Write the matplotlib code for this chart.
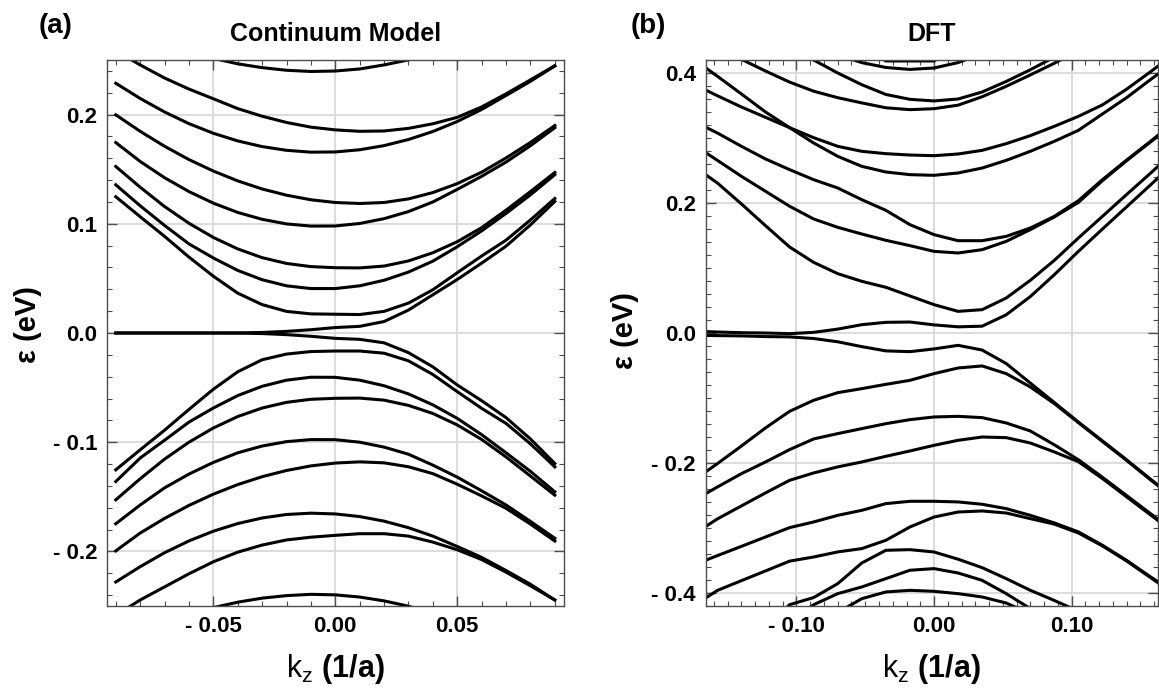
import matplotlib
matplotlib.use("Agg")
import matplotlib.pyplot as plt
from matplotlib.ticker import MultipleLocator

plt.rcParams['font.family'] = ['Liberation Sans', 'DejaVu Sans']
plt.rcParams['mathtext.fontset'] = 'custom'
plt.rcParams['mathtext.rm'] = 'Liberation Sans'
plt.rcParams['mathtext.it'] = 'Liberation Sans:italic'

# (a) continuum model, bands
kz_cm = [-0.09, -0.08, -0.07, -0.06, -0.05, -0.04, -0.03, -0.02, -0.01, 0.0,
         0.01, 0.02, 0.03, 0.04, 0.05, 0.06, 0.07, 0.08, 0.09]

c1 = [0.29, 0.279, 0.268, 0.259, 0.2515, 0.2465, 0.243, 0.2406, 0.2395, 0.2399, 0.2418, 0.2455, 0.2501, 0.2565, 0.264, 0.274, 0.285, 0.296, 0.307]
c2 = [0.2585, 0.2455, 0.2335, 0.2234, 0.2145, 0.2055, 0.1985, 0.1928, 0.1885, 0.186, 0.1847, 0.185, 0.1874, 0.1916, 0.1975, 0.207, 0.219, 0.2318, 0.2448]
c3 = [0.2287, 0.2148, 0.2024, 0.1917, 0.1829, 0.1759, 0.1707, 0.1673, 0.1656, 0.1658, 0.1678, 0.1716, 0.1772, 0.1845, 0.1937, 0.2047, 0.2175, 0.2305, 0.2445]
c4 = [0.1998, 0.1847, 0.171, 0.1588, 0.1483, 0.1393, 0.1319, 0.1262, 0.122, 0.1195, 0.1186, 0.1195, 0.1228, 0.1286, 0.1368, 0.1473, 0.1603, 0.1745, 0.19]
c5 = [0.1744, 0.1571, 0.1422, 0.1295, 0.1189, 0.1104, 0.1041, 0.0999, 0.0979, 0.098, 0.1003, 0.1047, 0.1112, 0.12, 0.1315, 0.1435, 0.1565, 0.1715, 0.188]
c6 = [0.1525, 0.1335, 0.1158, 0.1005, 0.0875, 0.077, 0.069, 0.0637, 0.0608, 0.0598, 0.0596, 0.0613, 0.066, 0.0735, 0.0836, 0.0965, 0.1125, 0.1295, 0.147]
c7 = [0.1357, 0.1165, 0.0985, 0.0816, 0.0687, 0.0573, 0.0488, 0.0432, 0.0407, 0.0407, 0.0432, 0.0483, 0.0558, 0.0658, 0.079, 0.0935, 0.1095, 0.1265, 0.145]
c8 = [0.1248, 0.1065, 0.0885, 0.0695, 0.052, 0.0365, 0.026, 0.0198, 0.0175, 0.0172, 0.0169, 0.0198, 0.0274, 0.0396, 0.0552, 0.0705, 0.085, 0.1035, 0.1232]
c9 = [0.0, 0.0, 0.0, 0.0, 0.0, 0.0001, 0.0005, 0.0015, 0.003, 0.005, 0.0061, 0.0105, 0.021, 0.035, 0.049, 0.064, 0.0795, 0.099, 0.1205]

v1 = [0.0, 0.0, 0.0, 0.0, 0.0, -0.0001, -0.0005, -0.0015, -0.003, -0.0049, -0.0058, -0.009, -0.018, -0.031, -0.0476, -0.062, -0.0775, -0.097, -0.1195]
v2 = [-0.1253, -0.107, -0.089, -0.07, -0.0515, -0.0355, -0.0245, -0.0193, -0.017, -0.0165, -0.0165, -0.0185, -0.0255, -0.038, -0.0537, -0.069, -0.0828, -0.1015, -0.1226]
v3 = [-0.136, -0.1145, -0.0982, -0.0816, -0.0687, -0.0573, -0.0488, -0.0432, -0.0405, -0.0406, -0.0432, -0.0483, -0.0558, -0.0658, -0.0782, -0.0931, -0.1097, -0.1267, -0.1454]
v4 = [-0.1528, -0.1335, -0.1155, -0.1, -0.087, -0.0765, -0.0687, -0.0635, -0.0607, -0.0598, -0.0596, -0.0615, -0.0663, -0.0737, -0.0842, -0.0975, -0.1135, -0.131, -0.1485]
v5 = [-0.1747, -0.1575, -0.1418, -0.1292, -0.1185, -0.1097, -0.1035, -0.0995, -0.0976, -0.0977, -0.1, -0.1045, -0.111, -0.121, -0.132, -0.1445, -0.1575, -0.1725, -0.188]
v6 = [-0.1995, -0.1832, -0.1698, -0.1579, -0.1476, -0.1388, -0.1316, -0.1259, -0.1217, -0.1191, -0.118, -0.1189, -0.1225, -0.1288, -0.1385, -0.1492, -0.1605, -0.175, -0.1905]
v7 = [-0.228, -0.214, -0.2012, -0.1904, -0.1815, -0.1745, -0.1694, -0.1662, -0.165, -0.1657, -0.1681, -0.1723, -0.1783, -0.186, -0.1955, -0.2055, -0.2175, -0.2301, -0.2445]
v8 = [-0.2585, -0.2445, -0.2325, -0.2205, -0.2095, -0.2007, -0.1942, -0.1895, -0.187, -0.1853, -0.1838, -0.1838, -0.186, -0.1915, -0.1985, -0.2075, -0.219, -0.2315, -0.2445]
v9 = [-0.3, -0.283, -0.269, -0.259, -0.2515, -0.2465, -0.2428, -0.2405, -0.2393, -0.2398, -0.2418, -0.2453, -0.2502, -0.257, -0.265, -0.275, -0.286, -0.297, -0.308]

cm_bands = [c1, c2, c3, c4, c5, c6, c7, c8, c9, v1, v2, v3, v4, v5, v6, v7, v8, v9]

# (b) DFT bands on the k mesh
kz_dft = [-0.175, -0.1575, -0.14, -0.1225, -0.105, -0.0875, -0.07, -0.0525, -0.035, -0.0175, 0.0,
          0.0175, 0.035, 0.0525, 0.07, 0.0875, 0.105, 0.1225, 0.14, 0.1575, 0.175]

d1 = [0.62, 0.6, 0.57, 0.54, 0.51, 0.48, 0.46, 0.44, 0.4185, 0.4185, 0.4185, 0.44, 0.46, 0.48, 0.51, 0.54, 0.57, 0.6, 0.63, 0.66, 0.69]
d2 = [0.6, 0.57, 0.54, 0.51, 0.48, 0.455, 0.428, 0.416, 0.4085, 0.4055, 0.4077, 0.416, 0.43, 0.45, 0.475, 0.5, 0.53, 0.56, 0.59, 0.62, 0.65]
d3 = [0.52, 0.5, 0.48, 0.46, 0.44, 0.42, 0.40, 0.382, 0.367, 0.3595, 0.357, 0.36, 0.3708, 0.387, 0.405, 0.4245, 0.445, 0.465, 0.485, 0.505, 0.525]
d4 = [0.455, 0.438, 0.421, 0.403, 0.386, 0.372, 0.362, 0.354, 0.3465, 0.3436, 0.3451, 0.3505, 0.3635, 0.3795, 0.397, 0.415, 0.435, 0.455, 0.475, 0.495, 0.515]
d5 = [0.4215, 0.395, 0.3677, 0.34, 0.3159, 0.2923, 0.2718, 0.2564, 0.2477, 0.2436, 0.2426, 0.2462, 0.2538, 0.2656, 0.2795, 0.2949, 0.3118, 0.337, 0.362, 0.39, 0.417]
d6 = [0.383, 0.365, 0.3477, 0.3318, 0.3159, 0.3005, 0.2872, 0.2795, 0.2759, 0.2738, 0.2728, 0.2754, 0.281, 0.2913, 0.3036, 0.318, 0.3333, 0.351, 0.375, 0.402, 0.43]
d7 = [0.326, 0.3077, 0.2872, 0.2677, 0.2513, 0.2359, 0.2231, 0.2051, 0.1887, 0.1667, 0.1513, 0.142, 0.142, 0.1487, 0.1615, 0.1795, 0.2036, 0.236, 0.266, 0.295, 0.325]
d8 = [0.29, 0.2656, 0.241, 0.218, 0.195, 0.1754, 0.1626, 0.1523, 0.1426, 0.1344, 0.1256, 0.1231, 0.1282, 0.141, 0.159, 0.1785, 0.201, 0.2344, 0.265, 0.294, 0.323]
d9 = [0.257, 0.2308, 0.1985, 0.1651, 0.1323, 0.1087, 0.0913, 0.0795, 0.0703, 0.057, 0.0436, 0.0333, 0.0359, 0.0538, 0.081, 0.1118, 0.1462, 0.1795, 0.213, 0.246, 0.28]
d10 = [0.003, 0.0015, 0.0005, 0.0, -0.001, 0.001, 0.006, 0.0128, 0.0164, 0.0169, 0.0125, 0.0095, 0.0105, 0.028, 0.056, 0.0897, 0.1256, 0.16, 0.194, 0.228, 0.262]

e1 = [-0.0035, -0.004, -0.0045, -0.0055, -0.006, -0.0085, -0.0135, -0.021, -0.0275, -0.0287, -0.0245, -0.019, -0.0262, -0.047, -0.077, -0.107, -0.137, -0.166, -0.195, -0.225, -0.254]
e2 = [-0.227, -0.201, -0.1738, -0.146, -0.1205, -0.1035, -0.0918, -0.0856, -0.079, -0.0728, -0.0625, -0.0538, -0.0507, -0.0625, -0.083, -0.1086, -0.138, -0.167, -0.196, -0.226, -0.255]
e3 = [-0.258, -0.2369, -0.2164, -0.1984, -0.1794, -0.163, -0.1548, -0.1471, -0.1395, -0.1333, -0.1292, -0.1282, -0.1302, -0.1384, -0.1507, -0.172, -0.195, -0.222, -0.25, -0.278, -0.306]
e4 = [-0.31, -0.286, -0.266, -0.246, -0.2266, -0.2153, -0.206, -0.1984, -0.1897, -0.1815, -0.1728, -0.1651, -0.16, -0.161, -0.1692, -0.183, -0.198, -0.224, -0.252, -0.28, -0.308]
e5 = [-0.357, -0.3425, -0.3282, -0.3138, -0.2994, -0.2907, -0.2805, -0.2728, -0.2625, -0.2589, -0.2589, -0.2599, -0.2635, -0.2702, -0.2805, -0.2922, -0.306, -0.3266, -0.3497, -0.3753, -0.40]
e6 = [-0.42, -0.396, -0.381, -0.366, -0.351, -0.3446, -0.3368, -0.3317, -0.3189, -0.2984, -0.2831, -0.2754, -0.2738, -0.2769, -0.2856, -0.294, -0.3077, -0.3276, -0.3507, -0.3764, -0.402]
e7 = [-0.55, -0.52, -0.49, -0.455, -0.418, -0.407, -0.3856, -0.3538, -0.3343, -0.3333, -0.3369, -0.348, -0.361, -0.3779, -0.3958, -0.4115, -0.428, -0.45, -0.47, -0.49, -0.51]
e8 = [-0.6, -0.57, -0.54, -0.51, -0.445, -0.418, -0.401, -0.3907, -0.3779, -0.365, -0.3625, -0.3692, -0.3805, -0.401, -0.424, -0.45, -0.48, -0.51, -0.54, -0.57, -0.6]
e9 = [-0.7, -0.66, -0.62, -0.58, -0.54, -0.49, -0.43, -0.4087, -0.3984, -0.3959, -0.3974, -0.401, -0.4061, -0.4154, -0.432, -0.46, -0.49, -0.52, -0.55, -0.58, -0.61]

dft_bands = [d1, d2, d3, d4, d5, d6, d7, d8, d9, d10, e1, e2, e3, e4, e5, e6, e7, e8, e9]

# ticks and labels
cm_xticks = [-0.05, 0.0, 0.05]
cm_xlabels = ["- 0.05", "0.00", "0.05"]
cm_yticks = [-0.2, -0.1, 0.0, 0.1, 0.2]
cm_ylabels = ["- 0.2", "- 0.1", "0.0", "0.1", "0.2"]
dft_xticks = [-0.1, 0.0, 0.1]
dft_xlabels = ["- 0.10", "0.00", "0.10"]
dft_yticks = [-0.4, -0.2, 0.0, 0.2, 0.4]
dft_ylabels = ["- 0.4", "- 0.2", "0.0", "0.2", "0.4"]

W, H = 1159, 691
fig = plt.figure(figsize=(W / 100, H / 100), dpi=100)
ax1 = fig.add_axes([107 / W, 1 - 606 / H, (563.6 - 107) / W, 546 / H])
ax2 = fig.add_axes([705.7 / W, 1 - 606 / H, (1157.5 - 705.7) / W, 546 / H])

frame_col = '#4d4d4d'


def style(ax, xt, xl, yt, yl, xminor, yminor, ylab_pos):
    ax.set_xticks(xt)
    ax.set_xticklabels(xl)
    ax.set_yticks(yt)
    ax.set_yticklabels(yl)
    ax.xaxis.set_minor_locator(MultipleLocator(xminor))
    ax.yaxis.set_minor_locator(MultipleLocator(yminor))
    ax.tick_params(which='both', direction='in', top=True, right=True, color=frame_col)
    ax.tick_params(which='major', length=7, width=1.0, labelsize=16, pad=7)
    ax.tick_params(which='minor', length=3.5, width=0.8)
    for lab in ax.get_xticklabels() + ax.get_yticklabels():
        lab.set_fontweight('bold')
    for sp in ax.spines.values():
        sp.set_color(frame_col)
        sp.set_linewidth(1.0)
    ax.grid(True, which='major', color='#d9d9d9', linewidth=1.3)
    ax.set_axisbelow(True)
    ax.set_xlabel(r"$\mathrm{k_z}$ (1/a)", fontsize=22, fontweight='bold')
    ax.set_ylabel("ε (eV)", fontsize=21, fontweight='bold')
    ax.xaxis.set_label_coords(0.5, -0.085)
    ax.yaxis.set_label_coords(*ylab_pos)


for band in cm_bands:
    ax1.plot(kz_cm, band, color='black', linewidth=2.2, solid_joinstyle='round')
ax1.set_xlim(-0.0936, 0.0936)
ax1.set_ylim(-0.25, 0.25)
style(ax1, cm_xticks, cm_xlabels, cm_yticks, cm_ylabels, 0.01, 0.02, (-0.142, 0.515))
ax1.set_title("Continuum Model", fontsize=18, fontweight='bold', pad=14)

for band in dft_bands:
    ax2.plot(kz_dft, band, color='black', linewidth=2.2, solid_joinstyle='miter')
ax2.set_xlim(-0.166, 0.1625)
ax2.set_ylim(-0.42, 0.42)
style(ax2, dft_xticks, dft_xlabels, dft_yticks, dft_ylabels, 0.01, 0.02, (-0.148, 0.505))
ax2.set_title("DFT", fontsize=18, fontweight='bold', pad=14)

fig.text(56 / W, 1 - 26 / H, "(a)", ha='center', va='center', fontsize=20, fontweight='bold')
fig.text(648 / W, 1 - 26 / H, "(b)", ha='center', va='center', fontsize=20, fontweight='bold')

fig.savefig("out.png", dpi=100)
